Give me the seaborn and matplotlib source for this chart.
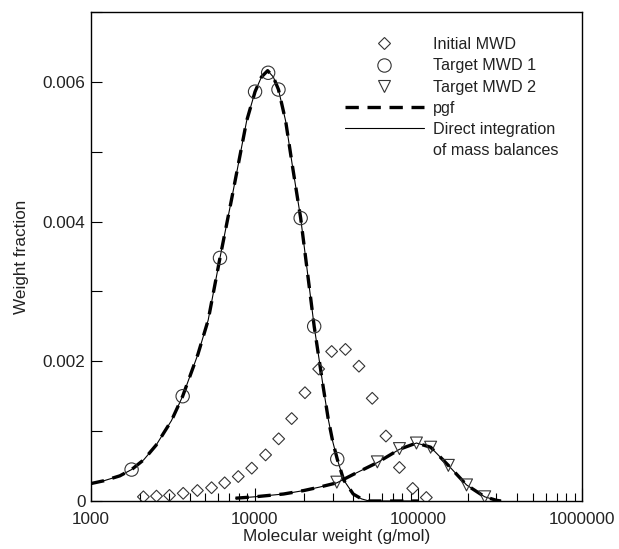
import matplotlib
matplotlib.use("Agg")
import matplotlib.pyplot as plt
import matplotlib.ticker as mticker
from matplotlib.lines import Line2D
import numpy as np
import pandas as pd
import seaborn as sns

# ---- data ----
init_mw = [2090, 2513, 3017, 3659, 4467, 5453, 6556, 7940, 9600, 11660, 14020,
           16830, 20290, 24600, 29540, 35860, 43370, 52290, 63390, 76660, 92420, 111900]
init_wf = [0.00006, 0.00007, 0.00008, 0.00011, 0.00015, 0.00019, 0.00026, 0.00035,
           0.00047, 0.00066, 0.00089, 0.00118, 0.00155, 0.00189, 0.00214, 0.00217,
           0.00193, 0.00147, 0.00093, 0.00048, 0.00018, 0.00005]

t1_mw = [1770, 3631, 6138, 10056, 12089, 13978, 19100, 23100, 31960]
t1_wf = [0.00045, 0.00150, 0.00348, 0.00586, 0.00613, 0.00589, 0.00405, 0.00250, 0.00060]

t2_mw = [31780, 56180, 76660, 97370, 118900, 152500, 197000, 254400]
t2_wf = [0.00027, 0.00056, 0.00075, 0.00083, 0.00077, 0.00051, 0.00023, 0.00006]

c1_mw = [1000, 1200, 1500, 1770, 2100, 2500, 3100, 3631, 4500, 5200, 6138, 7200,
         8930, 10056, 11000, 12000, 13000, 13978, 15460, 17000, 19100, 21570, 23100,
         26240, 28170, 30000, 31960, 35000, 40000, 45000, 50000, 100000]
c1_wf = [0.00025, 0.00029, 0.00036, 0.00045, 0.00059, 0.00080, 0.00115, 0.00150,
         0.00210, 0.00259, 0.00348, 0.00430, 0.00544, 0.00586, 0.00607, 0.00616,
         0.00607, 0.00589, 0.00544, 0.00480, 0.00405, 0.00306, 0.00250, 0.00163,
         0.00117, 0.00085, 0.00060, 0.00030, 0.00010, 0.00003, 0.0, 0.0]

c2_mw = [7640, 10000, 15000, 20000, 25000, 31780, 40000, 56180, 76660, 97370,
         118900, 152500, 197000, 254400, 300000, 320000]
c2_wf = [0.00004, 0.00006, 0.00010, 0.00015, 0.00020, 0.00026, 0.00038, 0.00055,
         0.00074, 0.00083, 0.00077, 0.00051, 0.00023, 0.00006, 0.00001, 0.0]

x_ticks = [1000, 10000, 100000, 1000000]
x_tick_labels = ["1000", "10000", "100000", "1000000"]
legend_labels = ["Initial MWD", "Target MWD 1", "Target MWD 2", "pgf",
                 "Direct integration", "of mass balances"]

# ---- style ----
sns.set_style("ticks")
plt.rcParams["font.family"] = ["Liberation Sans", "DejaVu Sans"]
TXT = "#222222"
MK = "#333333"

fig = plt.figure(figsize=(6.19, 5.49), dpi=100)
ax = fig.add_axes([91 / 619, 1 - 501 / 549, 491 / 619, 489 / 549])
ax.set_xscale("log")

c1 = pd.DataFrame({"mw": c1_mw, "wf": c1_wf})
c2 = pd.DataFrame({"mw": c2_mw, "wf": c2_wf})

# direct integration (thin solid)
for df in (c1, c2):
    sns.lineplot(data=df, x="mw", y="wf", ax=ax, color="black", lw=0.8,
                 estimator=None, zorder=2)
# pgf (thick dashed)
for df in (c1, c2):
    sns.lineplot(data=df, x="mw", y="wf", ax=ax, color="black", lw=2.4,
                 dashes=False, estimator=None, zorder=3)
    ax.lines[-1].set_dashes((4, 2.6))

def scat(x, y, marker, size):
    sns.scatterplot(x=x, y=y, ax=ax, marker=marker, s=size ** 2,
                    edgecolor=MK, linewidth=0.8, zorder=4)
    coll = ax.collections[-1]
    coll.set_facecolor("none")
    coll.set_edgecolor(MK)

scat(init_mw, init_wf, "D", 6.0)
scat(t1_mw, t1_wf, "o", 9.6)
scat(t2_mw, t2_wf, "v", 8.6)

ax.set_xlim(1000, 1000000)
ax.set_ylim(0, 0.007)

ax.xaxis.set_major_locator(mticker.FixedLocator(x_ticks))
ax.xaxis.set_major_formatter(mticker.FixedFormatter(x_tick_labels))
ax.xaxis.set_minor_locator(mticker.LogLocator(base=10, subs=np.arange(2, 10)))
ax.xaxis.set_minor_formatter(mticker.NullFormatter())

ax.yaxis.set_major_locator(mticker.MultipleLocator(0.001))
def yfmt(v, pos):
    k = int(round(v * 1000))
    if k % 2:
        return ""
    return "0" if k == 0 else f"{v:.3f}"
ax.yaxis.set_major_formatter(mticker.FuncFormatter(yfmt))

ax.tick_params(axis="x", which="major", direction="in", length=9.5, width=0.8,
               color="black", labelsize=12.3, labelcolor=TXT, pad=8, top=False)
ax.tick_params(axis="x", which="minor", direction="in", length=5.8, width=0.8,
               color="black", top=False)
ax.tick_params(axis="y", which="major", direction="in", length=8, width=0.8,
               color="black", labelsize=12.3, labelcolor=TXT, pad=4, right=False)

for s in ax.spines.values():
    s.set_visible(True)
    s.set_linewidth(1.0)
    s.set_color("black")

ax.set_xlabel("Molecular weight (g/mol)", fontsize=12.3, color=TXT, labelpad=1)
ax.set_ylabel("Weight fraction", fontsize=12.3, color=TXT, labelpad=10)

handles = [
    Line2D([], [], ls="none", marker="D", ms=6.0, mfc="none", mec=MK, mew=0.8),
    Line2D([], [], ls="none", marker="o", ms=9.6, mfc="none", mec=MK, mew=0.8),
    Line2D([], [], ls="none", marker="v", ms=8.6, mfc="none", mec=MK, mew=0.8),
    Line2D([], [], color="black", lw=2.4, dashes=(4, 2.6)),
    Line2D([], [], color="black", lw=0.8),
    Line2D([], [], ls="none", marker=None),
]
leg = ax.legend(handles, legend_labels, loc="upper left",
                bbox_to_anchor=((345 - 91) / 491, (501 - 37) / 489),
                frameon=False, fontsize=11.6, handlelength=4.9, handletextpad=0.55,
                labelspacing=0.39, borderpad=0, borderaxespad=0)
for t in leg.get_texts():
    t.set_color(TXT)

fig.savefig("out.png", dpi=100)
